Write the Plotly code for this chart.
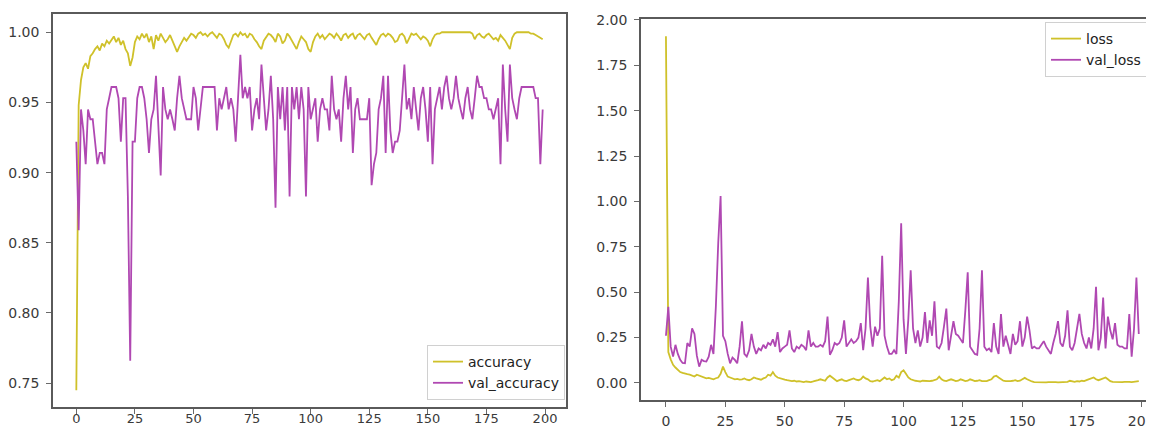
import plotly.graph_objects as go

epochs = list(range(200))

accuracy = [
    0.745, 0.948, 0.966, 0.975, 0.978, 0.974, 0.983, 0.985, 0.988, 0.990,
    0.987, 0.992, 0.990, 0.994, 0.992, 0.995, 0.997, 0.993, 0.996, 0.991,
    0.994, 0.988, 0.985, 0.976, 0.982, 0.993, 0.997, 0.995, 0.999, 0.996,
    0.999, 0.993, 0.997, 0.988, 0.998, 0.994, 0.999, 0.996, 0.993, 0.995,
    0.998, 0.994, 0.990, 0.986, 0.990, 0.993, 0.996, 0.994, 0.997, 0.999,
    0.998, 0.996, 0.999, 1.000, 0.998, 0.999, 0.997, 0.999, 1.000, 0.998,
    0.996, 0.999, 0.998, 0.995, 0.991, 0.989, 0.993, 0.998, 0.999, 0.997,
    1.000, 0.998, 0.999, 0.996, 0.999, 0.998, 0.995, 0.993, 0.990, 0.988,
    0.994, 0.997, 0.999, 0.998, 0.996, 0.993, 0.999, 0.997, 0.992, 0.994,
    0.999, 0.997, 0.994, 0.991, 0.988, 0.993, 0.997, 0.995, 0.993, 0.988,
    0.986, 0.993, 0.997, 0.999, 0.996, 0.998, 0.995, 0.997, 0.999, 0.998,
    0.996, 0.999, 0.997, 0.994, 0.998, 0.999, 0.996, 0.998, 0.999, 0.995,
    0.998, 0.999, 0.997, 0.995, 0.998, 0.999, 0.996, 0.993, 0.991, 0.995,
    0.998, 0.999, 0.997, 0.999, 0.998, 0.996, 0.993, 0.994, 0.998, 0.999,
    0.997, 0.992, 0.996, 0.999, 0.998, 0.999, 0.997, 0.995, 0.997, 0.996,
    0.994, 0.990, 0.995, 0.998, 0.999, 0.999, 1.000, 1.000, 1.000, 1.000,
    1.000, 1.000, 1.000, 1.000, 1.000, 1.000, 1.000, 1.000, 1.000, 0.999,
    0.995, 0.998, 0.999, 0.997, 0.996, 0.998, 0.999, 0.997, 0.995, 0.996,
    0.994, 0.998, 0.996, 0.994, 0.991, 0.988, 0.996, 0.999, 1.000, 1.000,
    1.000, 1.000, 1.000, 1.000, 0.999, 0.999, 0.998, 0.997, 0.996, 0.995,
]

val_accuracy = [
    0.922, 0.859, 0.945, 0.930, 0.906, 0.945, 0.938, 0.938, 0.922, 0.906,
    0.914, 0.914, 0.906, 0.945, 0.953, 0.961, 0.961, 0.961, 0.953, 0.922,
    0.953, 0.953, 0.883, 0.766, 0.922, 0.922, 0.953, 0.961, 0.961, 0.953,
    0.938, 0.914, 0.938, 0.945, 0.969, 0.930, 0.898, 0.961, 0.945, 0.938,
    0.945, 0.938, 0.930, 0.953, 0.969, 0.953, 0.945, 0.938, 0.938, 0.938,
    0.961, 0.953, 0.930, 0.945, 0.961, 0.961, 0.961, 0.961, 0.961, 0.961,
    0.930, 0.953, 0.945, 0.953, 0.961, 0.945, 0.953, 0.945, 0.922, 0.953,
    0.984, 0.953, 0.961, 0.953, 0.961, 0.930, 0.945, 0.953, 0.938, 0.977,
    0.953, 0.930, 0.945, 0.969, 0.938, 0.875, 0.961, 0.938, 0.961, 0.930,
    0.961, 0.883, 0.961, 0.945, 0.961, 0.938, 0.961, 0.945, 0.883, 0.961,
    0.938, 0.945, 0.953, 0.922, 0.945, 0.953, 0.945, 0.945, 0.930, 0.969,
    0.945, 0.938, 0.945, 0.922, 0.953, 0.969, 0.945, 0.961, 0.914, 0.945,
    0.953, 0.938, 0.938, 0.938, 0.938, 0.953, 0.891, 0.906, 0.914, 0.945,
    0.953, 0.969, 0.914, 0.969, 0.930, 0.914, 0.922, 0.922, 0.930, 0.953,
    0.977, 0.945, 0.953, 0.938, 0.961, 0.945, 0.930, 0.953, 0.961, 0.945,
    0.922, 0.961, 0.906, 0.945, 0.953, 0.961, 0.945, 0.961, 0.969, 0.953,
    0.945, 0.953, 0.969, 0.953, 0.945, 0.938, 0.953, 0.961, 0.945, 0.938,
    0.953, 0.969, 0.961, 0.961, 0.953, 0.953, 0.945, 0.945, 0.938, 0.945,
    0.953, 0.906, 0.977, 0.945, 0.922, 0.977, 0.953, 0.945, 0.938, 0.953,
    0.961, 0.961, 0.961, 0.961, 0.961, 0.961, 0.953, 0.953, 0.906, 0.945,
]

loss = [
    1.910, 0.170, 0.130, 0.100, 0.085, 0.070, 0.060, 0.055, 0.050, 0.048,
    0.046, 0.040, 0.035, 0.045, 0.040, 0.032, 0.030, 0.025, 0.028, 0.022,
    0.020, 0.026, 0.030, 0.050, 0.090, 0.060, 0.035, 0.030, 0.025, 0.020,
    0.022, 0.018, 0.020, 0.025, 0.018, 0.015, 0.020, 0.030, 0.025, 0.020,
    0.018, 0.025, 0.030, 0.045, 0.040, 0.060, 0.040, 0.030, 0.025, 0.020,
    0.018, 0.015, 0.012, 0.010, 0.012, 0.008, 0.010, 0.006, 0.005, 0.008,
    0.006, 0.005, 0.008, 0.010, 0.015, 0.020, 0.015, 0.012, 0.030, 0.040,
    0.030, 0.018, 0.010, 0.015, 0.020, 0.012, 0.010, 0.015, 0.020, 0.025,
    0.018, 0.015, 0.020, 0.035, 0.025, 0.020, 0.010, 0.008, 0.012, 0.015,
    0.010, 0.020, 0.030, 0.020, 0.025, 0.015, 0.020, 0.040, 0.030, 0.060,
    0.070, 0.050, 0.030, 0.020, 0.015, 0.012, 0.010, 0.008, 0.012, 0.010,
    0.008, 0.010, 0.012, 0.015, 0.020, 0.035, 0.020, 0.012, 0.010, 0.015,
    0.020, 0.015, 0.010, 0.012, 0.020, 0.015, 0.010, 0.012, 0.020, 0.015,
    0.010, 0.012, 0.015, 0.010, 0.008, 0.010, 0.015, 0.020, 0.035, 0.040,
    0.030, 0.020, 0.012, 0.010, 0.008, 0.010, 0.012, 0.015, 0.010, 0.012,
    0.020, 0.028, 0.020, 0.012, 0.008, 0.005, 0.004, 0.004, 0.003, 0.004,
    0.003, 0.004, 0.005, 0.003, 0.004, 0.003, 0.004, 0.005, 0.004, 0.006,
    0.012, 0.008, 0.006, 0.010, 0.008, 0.012, 0.010, 0.015, 0.020, 0.025,
    0.030, 0.020, 0.015, 0.020, 0.025, 0.030, 0.020, 0.010, 0.006, 0.005,
    0.006, 0.007, 0.005, 0.006, 0.008, 0.006, 0.005, 0.007, 0.008, 0.010,
]

val_loss = [
    0.260, 0.420, 0.200, 0.145, 0.210, 0.160, 0.127, 0.110, 0.108, 0.220,
    0.200, 0.300, 0.270, 0.150, 0.090, 0.127, 0.120, 0.118, 0.145, 0.210,
    0.160, 0.420, 0.770, 1.030, 0.260, 0.230, 0.160, 0.108, 0.140, 0.127,
    0.108, 0.200, 0.340, 0.160, 0.145, 0.180, 0.270, 0.200, 0.160, 0.190,
    0.180, 0.210, 0.190, 0.220, 0.210, 0.240, 0.200, 0.280, 0.170, 0.190,
    0.200, 0.210, 0.290, 0.190, 0.170, 0.200, 0.190, 0.210, 0.200, 0.180,
    0.290, 0.200, 0.220, 0.200, 0.200, 0.210, 0.200, 0.230, 0.365, 0.155,
    0.180, 0.220, 0.210, 0.220, 0.250, 0.345, 0.200, 0.220, 0.240, 0.220,
    0.230, 0.250, 0.330, 0.180, 0.300, 0.580, 0.310, 0.200, 0.310, 0.260,
    0.300, 0.700, 0.260, 0.200, 0.160, 0.160, 0.180, 0.160, 0.450, 0.880,
    0.350, 0.160, 0.350, 0.620, 0.300, 0.220, 0.290, 0.200, 0.250, 0.390,
    0.220, 0.345, 0.260, 0.450, 0.200, 0.190, 0.220, 0.310, 0.410, 0.180,
    0.250, 0.340, 0.270, 0.260, 0.240, 0.220, 0.400, 0.610, 0.200, 0.180,
    0.160, 0.155, 0.300, 0.620, 0.200, 0.180, 0.190, 0.170, 0.330, 0.200,
    0.160, 0.380, 0.200, 0.260, 0.210, 0.160, 0.270, 0.210, 0.230, 0.340,
    0.200, 0.250, 0.365, 0.290, 0.190, 0.200, 0.190, 0.190, 0.210, 0.230,
    0.200, 0.180, 0.160, 0.220, 0.270, 0.340, 0.220, 0.200, 0.260, 0.400,
    0.200, 0.180, 0.220, 0.300, 0.380, 0.270, 0.220, 0.190, 0.250, 0.190,
    0.300, 0.530, 0.180, 0.250, 0.470, 0.190, 0.365, 0.290, 0.240, 0.330,
    0.210, 0.200, 0.200, 0.190, 0.190, 0.380, 0.145, 0.300, 0.580, 0.270,
]

x_ticks = [0, 25, 50, 75, 100, 125, 150, 175, 200]
acc_ticks = [0.75, 0.80, 0.85, 0.90, 0.95, 1.00]
loss_ticks = [0.00, 0.25, 0.50, 0.75, 1.00, 1.25, 1.50, 1.75, 2.00]

YELLOW = "#cfc12a"
PURPLE = "#b048b2"
FONT = "DejaVu Sans"

# The page body has an 8px margin, so the figure is drawn 8px in from the top-left.
OFF = 8
FW, FH = 1154 - OFF, 428 - OFF


def fx(p):
    return (p - OFF) / FW


def fy(p):
    return 1 - (p - OFF) / FH


fig = go.Figure()
fig.add_trace(go.Scatter(x=epochs, y=accuracy, mode="lines", name="accuracy",
                         line=dict(color=YELLOW, width=1.8), xaxis="x", yaxis="y",
                         legend="legend"))
fig.add_trace(go.Scatter(x=epochs, y=val_accuracy, mode="lines", name="val_accuracy",
                         line=dict(color=PURPLE, width=1.8), xaxis="x", yaxis="y",
                         legend="legend"))
fig.add_trace(go.Scatter(x=epochs, y=loss, mode="lines", name="loss",
                         line=dict(color=YELLOW, width=1.8), xaxis="x2", yaxis="y2",
                         legend="legend2"))
fig.add_trace(go.Scatter(x=epochs, y=val_loss, mode="lines", name="val_loss",
                         line=dict(color=PURPLE, width=1.8), xaxis="x2", yaxis="y2",
                         legend="legend2"))

axis_common = dict(
    showgrid=False, zeroline=False, showline=True, linecolor="#5a5a5a", linewidth=1.5,
    ticks="outside", ticklen=5, tickwidth=1, tickcolor="#6a6a6a", automargin=False,
)
tick_font = dict(family=FONT, size=14, color="#3a3a3a")

legend_common = dict(
    bgcolor="rgba(255,255,255,0.9)", bordercolor="#d0d0d0", borderwidth=1,
    font=dict(family=FONT, size=14, color="#222222"), tracegroupgap=0, itemwidth=30,
)

fig.update_layout(
    width=FW, height=FH,
    margin=dict(l=0, r=0, t=0, b=0),
    paper_bgcolor="white", plot_bgcolor="white",
    xaxis=dict(domain=[fx(53), fx(566)], range=[-9.95, 208.95], tickvals=x_ticks,
               anchor="y", mirror=True, ticklabelstandoff=-6,
               tickfont=dict(family=FONT, size=13, color="#3a3a3a"), **axis_common),
    yaxis=dict(domain=[fy(407), fy(14)], range=[0.733, 1.013], tickvals=acc_ticks,
               tickformat=".2f", anchor="x", mirror=True, ticklabelstandoff=4,
               tickfont=tick_font, **axis_common),
    xaxis2=dict(domain=[fx(641), 1.0], range=[-10.5, 205.4], tickvals=x_ticks,
                anchor="y2", mirror=True, ticklabelstandoff=2,
                ticklabeloverflow="allow", tickfont=tick_font, **axis_common),
    yaxis2=dict(domain=[fy(400), fy(19)], range=[-0.094, 2.005], tickvals=loss_ticks,
                tickformat=".2f", anchor="x2", mirror=False, ticklabelstandoff=4,
                tickfont=tick_font, **axis_common),
    legend=dict(x=fx(565), y=fy(400), xanchor="right", yanchor="bottom", **legend_common),
    legend2=dict(x=fx(1045), y=fy(22), xanchor="left", yanchor="top", **legend_common),
    showlegend=True,
)

fig.write_html("out.html")
